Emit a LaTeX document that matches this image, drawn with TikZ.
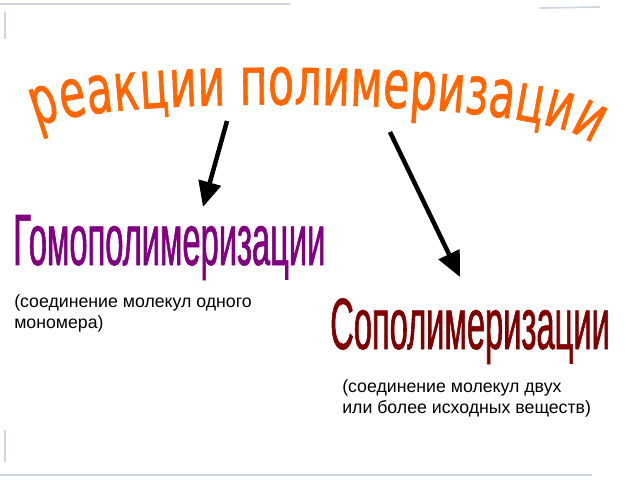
\documentclass[tikz,border=0pt]{standalone}
\usepackage{fontspec}
\setmainfont{Liberation Sans}
\newfontfamily\titlefont[FakeStretch=0.63,FakeBold=0.8]{DejaVu Sans}
\newfontfamily\narrowfont[FakeStretch=0.45,FakeBold=0.8]{Liberation Sans}
\usetikzlibrary{arrows.meta,decorations.text}
\definecolor{titleorange}{RGB}{255,102,0}
\definecolor{homopurple}{RGB}{128,0,128}
\definecolor{copolred}{RGB}{128,0,0}
\definecolor{framegray}{RGB}{205,213,226}

\begin{document}
\begin{tikzpicture}[x=0.025cm,y=-0.025cm,
    heading/.style={inner sep=0pt,anchor=base west,font=\narrowfont\fontsize{51.6}{52}\selectfont},
    note/.style={inner sep=0pt,anchor=base west,align=left,font=\fontsize{12.6}{14.8}\selectfont},
    bigarrow/.style={line width=3.2pt,-{Triangle[width=16pt,length=18pt]}}]
  \useasboundingbox (0,0) rectangle (640,480);
  % slide frame
  \draw[framegray,line width=1.4pt] (0,4) -- (290,4);
  \draw[framegray,line width=1.2pt] (540,8) -- (600,7);
  \draw[framegray,line width=1.2pt] (5,12) -- (5,39);
  \draw[framegray,line width=1.2pt] (5,430) -- (5,462);
  \draw[framegray,line width=1.6pt] (0,475) -- (592,475);

  % title on an arch
  \path[decorate,decoration={text along path,text align={fit to path},text color=titleorange,
      text={|\titlefont\fontsize{48}{48}\selectfont|реакции полимеризации}}]
    (37,128) .. controls (85,94) and (552,95) .. (592,145);

  \coordinate (left top) at (227,121);
  \coordinate (left tip) at (203,207);
  \coordinate (right top) at (390,132);
  \coordinate (right tip) at (460,277);

  \node[heading,text=homopurple] (homo) at (13,265) {Гомополимеризации};
  \node[note] (homo note) at (14,328) {(соединение молекул одного\\мономера)};
  \node[heading,text=copolred] (copol) at (330,349) {Сополимеризации};
  \node[note] (copol note) at (342,413) {(соединение молекул двух\\или более исходных веществ)};

  \draw[bigarrow] (left top) -- (left tip);
  \draw[bigarrow] (right top) -- (right tip);
\end{tikzpicture}
\end{document}
